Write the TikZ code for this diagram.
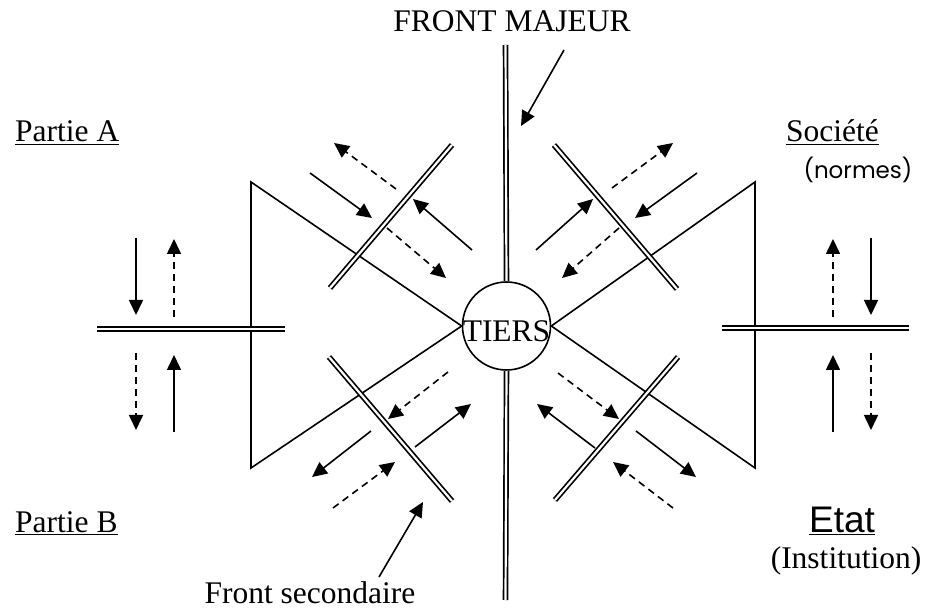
\documentclass[tikz,border=0pt]{standalone}
\usepackage{fontspec}
\setmainfont{Liberation Serif}
\newfontfamily\comicfont{Poppins}
\newfontfamily\arialfont{Liberation Sans}
\usetikzlibrary{arrows.meta}
\begin{document}
\begin{tikzpicture}[x=1pt,y=-1pt,
  lw/.style={line width=1.6pt},
  front/.style={double, double distance=2.2pt, line width=1.7pt},
  arr/.style={lw, -{Triangle[length=15pt,width=14pt]}},
  darr/.style={arr, dash pattern=on 7pt off 5pt},
  txt/.style={font=\fontsize{31.5}{36}\selectfont, inner sep=0pt}]
\useasboundingbox (0,0) rectangle (932,609);
% central node
\node[circle, draw, lw, minimum size=88pt, inner sep=0pt] (tiers) at (506.5,326) {};
\node[txt, anchor=base] (tiersl) at (506.5,342) {TIERS};
% triangles
\coordinate (TLa) at (251,182); \coordinate (TLb) at (251,468);
\coordinate (TRa) at (755,182); \coordinate (TRb) at (755,468);
\draw[lw, line join=miter] (TLa) -- (tiers.west) -- (TLb) -- cycle;
\draw[lw, line join=miter] (TRa) -- (tiers.east) -- (TRb) -- cycle;
% main front
\coordinate (M0) at (505.5,45); \coordinate (M1) at (505.5,600);
\draw[front] (M0) -- (tiers.north);
\draw[front] (tiers.south) -- (M1);
% secondary fronts
\foreach \n/\a/\b in {UL/{(330,288)}/{(452,145)}, UR/{(554,145)}/{(677,289)},
  LL/{(329,357)}/{(452,501)}, LR/{(555,500)}/{(678,357)},
  HL/{(97,329)}/{(285,329)}, HR/{(722,328)}/{(909,328)}} {
  \path \a coordinate (\n-a) \b coordinate (\n-b);
  \draw[front] (\n-a) -- (\n-b);
}
% solid arrows
\foreach \n/\a/\b in {s1/{(136,238)}/{(136,315)}, s2/{(174,432)}/{(174,355)},
  s3/{(871,238)}/{(871,315)}, s4/{(833,432)}/{(833,355)},
  s5/{(310,173)}/{(372,218)}, s6/{(472,250)}/{(413,199)},
  s7/{(697,173)}/{(635,218)}, s8/{(536,250)}/{(593,199)},
  s9/{(415,447)}/{(471,404)}, s10/{(371,431)}/{(312,477)},
  s11/{(595,448)}/{(537,404)}, s12/{(636,431)}/{(696,477)},
  s13/{(564,50)}/{(521,126)}, s14/{(379,577)}/{(423,502)}} {
  \path \a coordinate (\n-a) \b coordinate (\n-b);
  \draw[arr] (\n-a) -- (\n-b);
}
% dashed arrows
\foreach \n/\a/\b in {d1/{(174,317)}/{(174,239)}, d2/{(136,353)}/{(136,430)},
  d3/{(833,317)}/{(833,239)}, d4/{(871,353)}/{(871,430)},
  d5/{(396,189)}/{(334,143)}, d6/{(387,228)}/{(446,278)},
  d7/{(612,188)}/{(673,143)}, d8/{(619,228)}/{(562,278)},
  d9/{(448,372)}/{(388,419)}, d10/{(333,508)}/{(395,462)},
  d11/{(558,373)}/{(619,419)}, d12/{(673,508)}/{(613,462)}} {
  \path \a coordinate (\n-a) \b coordinate (\n-b);
  \draw[darr] (\n-a) -- (\n-b);
}
% labels
\node[txt, anchor=base] (fm) at (512,32) {FRONT MAJEUR};
\node[txt, anchor=base] (fs) at (310,603) {Front secondaire};
\node[txt, anchor=base west] (pa) at (15,142) {\underline{Partie A}};
\node[txt, anchor=base west] (pb) at (15,532) {\underline{Partie B}};
\node[txt, anchor=base west] (soc) at (786,142) {\underline{Société}};
\node[inner sep=0pt, font=\comicfont\fontsize{23}{27}\selectfont] (nor) at (858,170) {(normes)};
\node[inner sep=0pt, anchor=base west, font=\arialfont\fontsize{37}{42}\selectfont] (etat) at (809,532) {\underline{Etat}};
\node[txt, anchor=base] (inst) at (846,568) {(Institution)};
\end{tikzpicture}
\end{document}
